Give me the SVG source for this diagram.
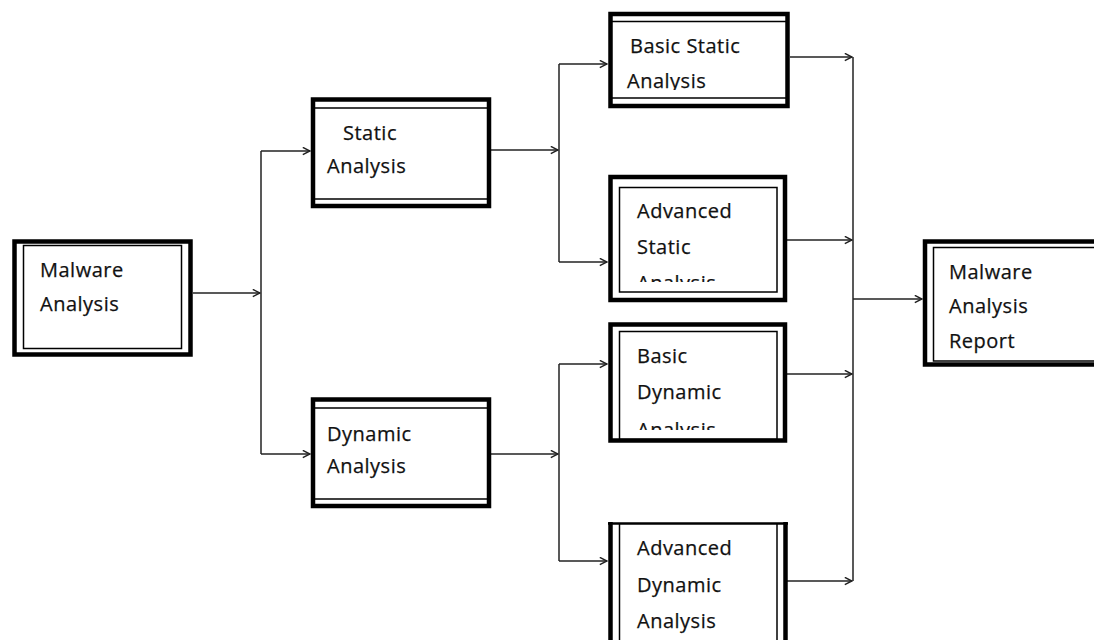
<svg xmlns="http://www.w3.org/2000/svg" width="1094" height="640" viewBox="0 0 1094 640">
<style>
.thick{fill:#fff;stroke:#000;stroke-width:4.5}
.thin{fill:none;stroke:#000;stroke-width:1.5}
.lbl{font-family:"Open Sans","Noto Sans",sans-serif;font-size:20px;letter-spacing:0.5px;fill:#111;stroke:#111;stroke-width:0.25}
.conn{fill:none;stroke:#222;stroke-width:1.5}
</style>
<defs>
<marker id="arr" viewBox="0 0 10 10" refX="9" refY="5" markerWidth="9" markerHeight="9" markerUnits="userSpaceOnUse" orient="auto">
<path d="M1,1 L9,5 L1,9" fill="none" stroke="#222" stroke-width="1.7"/>
</marker>
<clipPath id="clipBS"><rect x="608" y="12" width="182" height="78"/></clipPath>
<clipPath id="clipAS"><rect x="619" y="187" width="158" height="95"/></clipPath>
<clipPath id="clipBD"><rect x="619" y="331" width="158" height="99"/></clipPath>
</defs>

<g id="connectors">
<path class="conn" d="M193,293 H260" marker-end="url(#arr)"/>
<path class="conn" d="M261,151 V454"/>
<path class="conn" d="M261,151 H310" marker-end="url(#arr)"/>
<path class="conn" d="M261,454 H310" marker-end="url(#arr)"/>
<path class="conn" d="M490,150 H558" marker-end="url(#arr)"/>
<path class="conn" d="M559,64 V262"/>
<path class="conn" d="M559,64 H607" marker-end="url(#arr)"/>
<path class="conn" d="M559,262 H607" marker-end="url(#arr)"/>
<path class="conn" d="M490,454 H558" marker-end="url(#arr)"/>
<path class="conn" d="M559,364 V561"/>
<path class="conn" d="M559,364 H607" marker-end="url(#arr)"/>
<path class="conn" d="M559,561 H607" marker-end="url(#arr)"/>
<path class="conn" d="M790,57 H852" marker-end="url(#arr)"/>
<path class="conn" d="M787,240 H852" marker-end="url(#arr)"/>
<path class="conn" d="M787,374 H852" marker-end="url(#arr)"/>
<path class="conn" d="M787,581 H852" marker-end="url(#arr)"/>
<path class="conn" d="M853,57 V581"/>
<path class="conn" d="M853,299 H922" marker-end="url(#arr)"/>
</g>

<g id="malware-analysis">
<rect class="thick" x="14.5" y="241.5" width="176" height="113"/>
<rect class="thin" x="23.5" y="245.5" width="158" height="103"/>
<text class="lbl" x="40" y="277">Malware</text>
<text class="lbl" x="40" y="311">Analysis</text>
</g>

<g id="static-analysis">
<rect class="thick" x="313" y="99.5" width="176" height="106.5"/>
<line class="thin" x1="313" y1="108" x2="489" y2="108"/>
<line class="thin" x1="313" y1="199" x2="489" y2="199"/>
<text class="lbl" x="343" y="140">Static</text>
<text class="lbl" x="327" y="173">Analysis</text>
</g>

<g id="dynamic-analysis">
<rect class="thick" x="313" y="399.5" width="176" height="106.5"/>
<line class="thin" x1="313" y1="408" x2="489" y2="408"/>
<line class="thin" x1="313" y1="499" x2="489" y2="499"/>
<text class="lbl" x="327" y="441">Dynamic</text>
<text class="lbl" x="327" y="473">Analysis</text>
</g>

<g id="basic-static-analysis">
<rect class="thick" x="610.5" y="14" width="177" height="92"/>
<line class="thin" x1="610" y1="21.5" x2="788" y2="21.5"/>
<line class="thin" x1="610" y1="98" x2="788" y2="98"/>
<g clip-path="url(#clipBS)">
<text class="lbl" x="630" y="53">Basic Static</text>
<text class="lbl" x="627" y="88">Analysis</text>
</g>
</g>

<g id="advanced-static-analysis">
<rect class="thick" x="610.5" y="177" width="174.5" height="123"/>
<rect class="thin" x="619.5" y="187.5" width="157.5" height="104.5"/>
<g clip-path="url(#clipAS)">
<text class="lbl" x="637" y="218">Advanced</text>
<text class="lbl" x="637" y="254">Static</text>
<text class="lbl" x="637" y="290">Analysis</text>
</g>
</g>

<g id="basic-dynamic-analysis">
<rect class="thick" x="610.5" y="324.5" width="174.5" height="116"/>
<rect class="thin" x="619.5" y="331.5" width="157.5" height="108"/>
<g clip-path="url(#clipBD)">
<text class="lbl" x="637" y="363">Basic</text>
<text class="lbl" x="637" y="399">Dynamic</text>
<text class="lbl" x="637" y="437">Analysis</text>
</g>
</g>

<g id="advanced-dynamic-analysis">
<rect fill="#fff" stroke="none" x="610" y="523" width="176" height="130"/>
<line stroke="#000" stroke-width="2.5" x1="608" y1="523.5" x2="788" y2="523.5"/>
<line stroke="#000" stroke-width="4.5" x1="610.5" y1="522" x2="610.5" y2="645"/>
<line stroke="#000" stroke-width="4.5" x1="785.5" y1="522" x2="785.5" y2="645"/>
<line class="thin" x1="619.5" y1="523" x2="619.5" y2="645"/>
<line class="thin" x1="777" y1="523" x2="777" y2="645"/>
<text class="lbl" x="637" y="555">Advanced</text>
<text class="lbl" x="637" y="592">Dynamic</text>
<text class="lbl" x="637" y="628">Analysis</text>
</g>

<g id="malware-analysis-report">
<rect class="thick" x="925" y="241.5" width="180" height="123"/>
<rect class="thin" x="933.5" y="247.5" width="170" height="113.5"/>
<text class="lbl" x="949" y="279">Malware</text>
<text class="lbl" x="949" y="313">Analysis</text>
<text class="lbl" x="949" y="348">Report</text>
</g>
</svg>
